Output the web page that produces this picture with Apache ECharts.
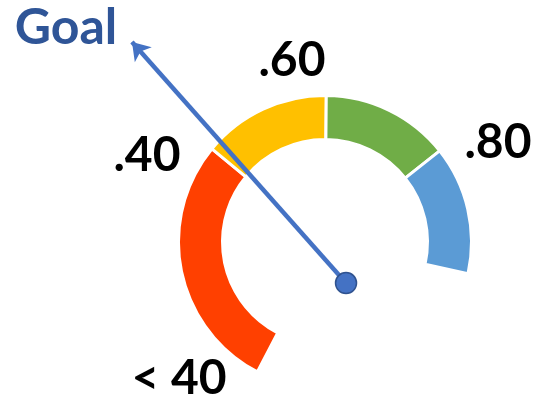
<!DOCTYPE html>
<html>
<head>
<meta charset="utf-8">
<script src="https://cdn.jsdelivr.net/npm/echarts@6/dist/echarts.min.js"></script>
<style>html,body{margin:0;padding:0;background:#fff;}#c{width:536px;height:398px;}</style>
</head>
<body>
<div id="c"></div>
<script>
// Gauge bands (share of the arc)
const bandNames = ['< 40', '.40-.60', '.60-.80', '.80+'];
const bandValues = [0.4, 0.2, 0.2, 0.2];
const bandColors = ['#FF4000', '#FFC000', '#70AD47', '#5B9BD5'];
// Tick labels
const tickLabels = ['< 40', '.40', '.60', '.80'];
const goalLabel = 'Goal';
// Needle (in units of gauge outer radius, origin at gauge centre)
const needleFrom = [0.145, -0.283];
const needleTo = [-1.331, 1.379];

const chart = echarts.init(document.getElementById('c'), null, {renderer: 'canvas'});
const font = 'Lato, "Open Sans", sans-serif';
const txt = (text, x, y, color, size) => ({
  type: 'text', x: x, y: y,
  style: {text: text, fill: color, font: 'bold ' + size + 'px ' + font, textAlign: 'center', textVerticalAlign: 'middle'}
});
chart.setOption({
  backgroundColor: '#ffffff',
  animation: false,
  grid: {left: 35, top: 24.5, width: 493, height: 362.5},
  xAxis: {type: 'value', min: -2, max: 1.4, show: false},
  yAxis: {type: 'value', min: -1, max: 1.5, show: false},
  series: [
    {
      type: 'pie',
      center: [325, 242],
      radius: [102.5, 146.5],
      startAngle: 242.5,
      endAngle: -12.5,
      clockwise: true,
      sort: null,
      label: {show: false},
      labelLine: {show: false},
      emphasis: {disabled: true},
      itemStyle: {borderColor: '#ffffff', borderWidth: 3},
      data: bandValues.map((v, i) => ({name: bandNames[i], value: v, itemStyle: {color: bandColors[i]}}))
    },
    {
      type: 'line',
      clip: false,
      z: 5,
      showSymbol: false,
      symbol: 'none',
      lineStyle: {color: '#4472C4', width: 4.5},
      emphasis: {disabled: true},
      data: [needleFrom, needleTo]
    },
    {
      type: 'lines',
      coordinateSystem: 'cartesian2d',
      clip: false,
      z: 5,
      symbol: ['none', 'arrow'],
      symbolSize: [0, 17],
      lineStyle: {color: '#4472C4', width: 2, opacity: 1},
      data: [{coords: [needleFrom, needleTo]}]
    },
    {
      type: 'scatter',
      clip: false,
      z: 6,
      symbol: 'circle',
      symbolSize: 21,
      itemStyle: {color: '#4472C4', borderColor: '#2F528F', borderWidth: 1.5, opacity: 1},
      data: [needleFrom]
    }
  ],
  graphic: [
    txt(goalLabel, 66, 28, '#2F5597', 50),
    txt(tickLabels[0], 179, 379, '#000000', 48),
    txt(tickLabels[1], 147, 156, '#000000', 48),
    txt(tickLabels[2], 292, 61, '#000000', 48),
    txt(tickLabels[3], 498, 143, '#000000', 48)
  ]
});
</script>
</body>
</html>
